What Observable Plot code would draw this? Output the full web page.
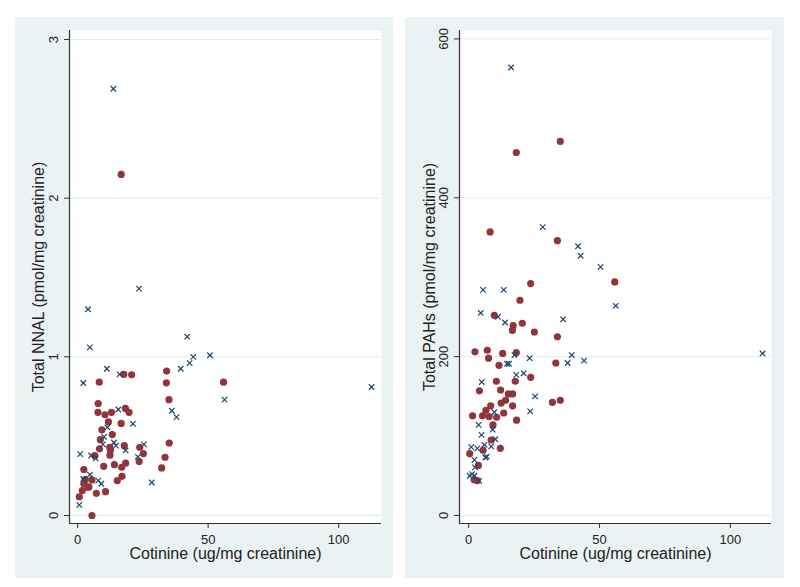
<!DOCTYPE html>
<html><head><meta charset="utf-8">
<script src="https://cdn.jsdelivr.net/npm/d3@7"></script>
<script src="https://cdn.jsdelivr.net/npm/@observablehq/plot@0.6"></script>
<style>
body{margin:0;background:#fff;}
#wrap{position:relative;width:800px;height:587px;background:#fff;font-family:"Liberation Sans",Arial,sans-serif;}
.panel{position:absolute;top:17px;height:561px;background:#eaf2f3;}
.panel svg{display:block;}
</style></head><body>
<div id="wrap">
  <div class="panel" id="p1" style="left:15px;width:378px"></div>
  <div class="panel" id="p2" style="left:405px;width:379px"></div>
</div>
<script>
// ---- shared
const xTitle = "Cotinine (ug/mg creatinine)";
const xTicks = [0, 50, 100];

// ---- left panel: Total NNAL
const nnalTitle = "Total NNAL (pmol/mg creatinine)";
const nnalTicks = [0, 1, 2, 3];
const nnalRedX = [17.7,20.7,8.3,34.1,34.0,55.9,35.0,7.9,7.8,10.5,13.0,18.3,19.7,11.8,16.7,9.3,13.3,8.7,8.4,12.3,12.6,12.4,17.9,6.6,10.0,14.1,16.9,18.4,23.8,25.2,23.6,35.1,33.5,32.2,2.4,17.0,15.2,10.7,7.2,5.5,2.9,2.4,4.3,1.8,0.65,5.5,16.7,4.0];
const nnalRedY = [0.89,0.887,0.84,0.91,0.836,0.84,0.73,0.706,0.65,0.635,0.65,0.675,0.65,0.59,0.58,0.54,0.51,0.478,0.42,0.43,0.413,0.38,0.44,0.377,0.31,0.32,0.304,0.33,0.43,0.39,0.34,0.457,0.367,0.30,0.29,0.247,0.22,0.15,0.14,0.224,0.226,0.20,0.18,0.157,0.118,0.0,2.15,0.178];
const nnalBlueX = [13.7,23.5,4.0,4.7,42.0,50.7,44.3,42.9,39.5,11.2,16.1,2.2,112.6,56.3,36.1,37.9,15.6,21.2,11.4,10.1,13.9,14.7,9.7,18.4,25.4,23.1,1.0,5.2,6.9,28.4,2.2,4.7,7.9,9.1,0.65];
const nnalBlueY = [2.69,1.43,1.30,1.06,1.127,1.01,1.0,0.96,0.925,0.925,0.89,0.835,0.81,0.73,0.66,0.62,0.668,0.578,0.555,0.496,0.46,0.44,0.448,0.41,0.448,0.37,0.387,0.378,0.36,0.208,0.23,0.258,0.22,0.20,0.067];

// ---- right panel: Total PAHs
const pahTitle = "Total PAHs (pmol/mg creatinine)";
const pahTicks = [0, 200, 400, 600];
const pahRedX = [35.0,18.2,8.2,33.9,55.8,23.7,19.6,9.8,17.0,20.5,16.7,25.1,33.9,2.4,7.1,13.0,18.2,7.6,33.3,11.6,23.7,10.6,17.8,4.1,12.2,15.2,16.8,14.1,12.4,32.0,35.0,8.4,16.8,6.6,1.5,5.3,7.8,10.7,13.4,9.3,18.3,8.6,12.1,5.5,0.4,3.7,2.1,3.3];
const pahRedY = [471,457,357,346,294,292,271,252,239,242,233,231,225,206,208,204,205,198,192,189,174,169,169,157,158,153,153,145,141.5,142.5,145,138,138,132.5,125.5,125.5,124.5,123.7,129,114,120,95,84.5,82,78,63,45,44];
const pahBlueX = [16.2,28.3,41.8,42.8,50.4,56.2,5.5,13.4,4.6,11.2,13.9,36.1,17.5,39.4,112.3,23.3,37.8,44.1,14.7,15.4,18.2,21.0,5.0,25.4,23.5,3.8,4.9,9.2,9.8,10.2,1.0,3.3,6.0,8.6,2.2,2.4,6.4,6.9,0.4,1.3,2.2,4.0];
const pahBlueY = [564,363,339,327,313,264,284,284,255,250,243,247,202,202,204,198,192,195,191,191,177,179,168,150,131,114,101.5,108,130,96,86,84.5,89,87,70,60.5,73,74,50,52,50,43.5];

const RED = "#90353b", BLUE = "#1a476f", AXIS = "#333", TXT = "#222";
const zip = (xs, ys) => xs.map((x, i) => ({x, y: ys[i]}));

function panel({width, marginRight, xDomain, yDomain, yTicks, yTitle, red, blue, titleDx}) {
  const mid = {textAnchor: "middle", lineAnchor: "middle"};
  return Plot.plot({
    width, height: 561,
    marginLeft: 54, marginRight, marginTop: 13, marginBottom: 55,
    style: {background: "transparent", fontFamily: "'Liberation Sans', Arial, sans-serif", color: TXT},
    x: {domain: xDomain},
    y: {domain: yDomain},
    marks: [
      Plot.frame({fill: "white", stroke: null}),
      Plot.gridY(yTicks, {stroke: "#e3ebee", strokeOpacity: 1, strokeWidth: 1}),
      Plot.ruleX([xDomain[0]], {stroke: AXIS, strokeWidth: 1.2}),
      Plot.ruleY([yDomain[0]], {stroke: AXIS, strokeWidth: 1.2}),
      Plot.axisX(xTicks, {tickSize: 5, tickPadding: 6, fontSize: 13, label: null, stroke: AXIS}),
      Plot.axisY(yTicks, {tickSize: 5, tickFormat: () => "", label: null, stroke: AXIS}),
      Plot.text(yTicks, {...mid, frameAnchor: "left", y: d => d, text: d => String(d), dx: -15.7, rotate: -90, fontSize: 13, fill: TXT}),
      Plot.text([xTitle], {...mid, frameAnchor: "bottom", dy: 30, fontSize: 16, fill: TXT}),
      Plot.text([yTitle], {...mid, frameAnchor: "left", dx: titleDx, rotate: -90, fontSize: 16, fill: TXT}),
      Plot.dot(red, {x: "x", y: "y", r: 3.6, fill: RED}),
      Plot.dot(blue, {x: "x", y: "y", symbol: "times", r: 2.6, stroke: BLUE, strokeWidth: 1.2})
    ]
  });
}

document.getElementById("p1").appendChild(panel({
  width: 378, marginRight: 12,
  xDomain: [-3.1, 116.4], yDomain: [-0.0505, 3.057],
  yTicks: nnalTicks, yTitle: nnalTitle, titleDx: -31,
  red: zip(nnalRedX, nnalRedY), blue: zip(nnalBlueX, nnalBlueY)
}));
document.getElementById("p2").appendChild(panel({
  width: 379, marginRight: 13,
  xDomain: [-3.5, 115.7], yDomain: [-10.1, 610.6],
  yTicks: pahTicks, yTitle: pahTitle, titleDx: -30,
  red: zip(pahRedX, pahRedY), blue: zip(pahBlueX, pahBlueY)
}));
</script>
</body></html>
